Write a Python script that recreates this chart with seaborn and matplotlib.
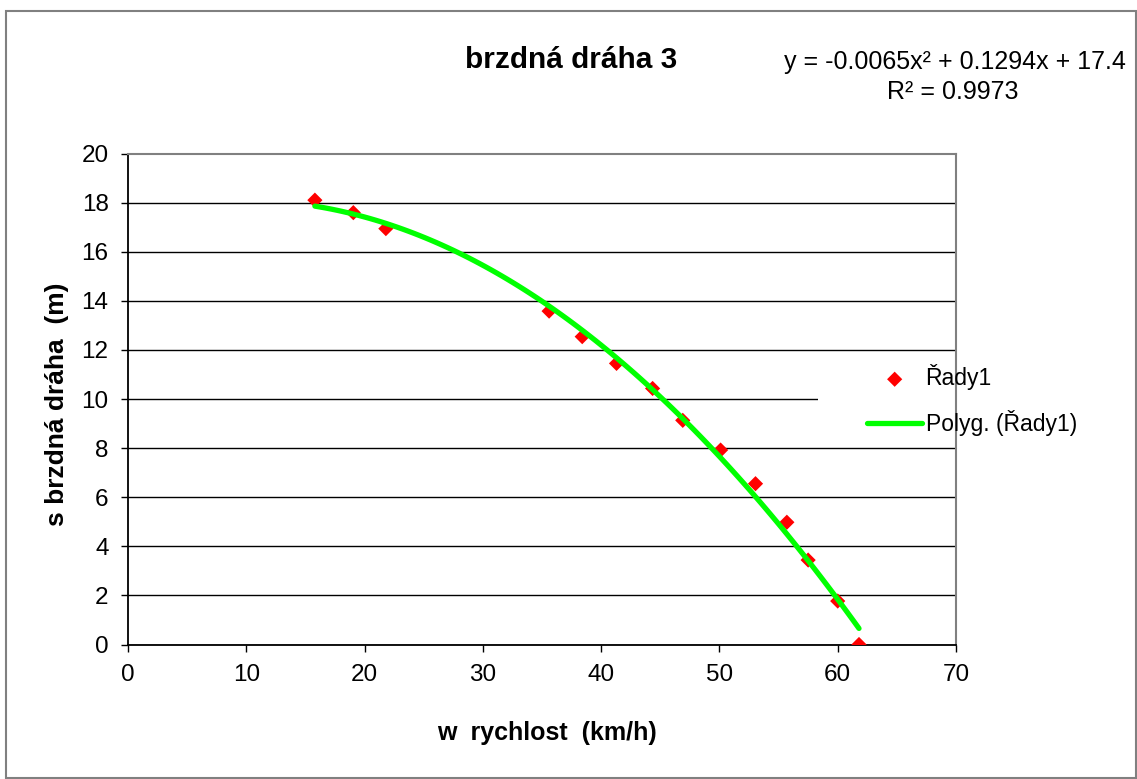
import numpy as np
import pandas as pd
import seaborn as sns
import matplotlib
matplotlib.use("Agg")
import matplotlib.pyplot as plt
from matplotlib.patches import Rectangle

# ---- data ----
rychlost = [15.8, 19.05, 21.8, 35.6, 38.4, 41.3, 44.35, 46.9, 50.1, 53.05, 55.7, 57.5, 60.0, 61.8]
draha = [18.1, 17.59, 16.94, 13.58, 12.54, 11.45, 10.43, 9.13, 7.92, 6.55, 4.98, 3.44, 1.77, 0.0]
x_ticks = [0, 10, 20, 30, 40, 50, 60, 70]
y_ticks = [0, 2, 4, 6, 8, 10, 12, 14, 16, 18, 20]
title = "brzdná dráha 3"
equation = "y = -0.0065x² + 0.1294x + 17.4"
r2_text = "R² = 0.9973"
series_label = "Řady1"
trend_label = "Polyg. (Řady1)"
x_label = "w  rychlost  (km/h)"
y_label = "s brzdná dráha  (m)"

df = pd.DataFrame({"x": rychlost, "y": draha})

sns.set_theme(style="white")
plt.rcParams["font.family"] = ["Liberation Sans", "DejaVu Sans"]
plt.rcParams["text.color"] = "black"
plt.rcParams["axes.labelcolor"] = "black"
plt.rcParams["xtick.color"] = "black"
plt.rcParams["ytick.color"] = "black"
plt.rcParams["legend.labelcolor"] = "black"

W, H = 1137, 779
fig = plt.figure(figsize=(W / 100, H / 100), dpi=100)
L, R, T, B = 128, 956, 153.5, 644.5
ax = fig.add_axes([L / W, 1 - B / H, (R - L) / W, (B - T) / H])

sns.scatterplot(data=df, x="x", y="y", ax=ax, marker="D", s=60, color="#ff0000",
                edgecolor="none", label=series_label, zorder=3)
sns.regplot(data=df, x="x", y="y", ax=ax, order=2, ci=None, scatter=False,
            color="#00ff00", line_kws={"lw": 3.8, "zorder": 4}, label=trend_label)

ax.set_xlim(0, 70)
ax.set_ylim(0, 20)
ax.set_xticks(x_ticks)
ax.set_yticks(y_ticks)
ax.tick_params(axis="both", direction="out", length=5, width=1, color="black",
               labelcolor="black", labelsize=17.5, pad=9, bottom=True, left=True)
ax.grid(axis="y", color="black", lw=1.0)
ax.grid(axis="x", visible=False)
ax.set_axisbelow(True)
ax.yaxis.get_gridlines()[-1].set_visible(False)

for s in ["left", "bottom"]:
    ax.spines[s].set_color("black")
    ax.spines[s].set_linewidth(1.3)
for s in ["top", "right"]:
    ax.spines[s].set_color("#808080")
    ax.spines[s].set_linewidth(1.5)

ax.set_xlabel(x_label, fontsize=18, fontweight="bold", va="center", color="black")
ax.set_ylabel(y_label, fontsize=19, fontweight="bold", va="center", color="black")
ax.xaxis.set_label_coords((547 - L) / (R - L), (B - 733) / (B - T))
ax.yaxis.set_label_coords((57 - L) / (R - L), (B - 404) / (B - T))

# legend mask (legend box covering the gridline)
ax.add_patch(Rectangle((818 / W, 1 - 446 / H), (1100 - 818) / W, (446 - 356) / H,
                       transform=fig.transFigure, facecolor="white", edgecolor="none",
                       zorder=1, clip_on=False))

leg = ax.legend(loc="center left", bbox_to_anchor=(858 / W, 1 - 400 / H),
                bbox_transform=fig.transFigure, frameon=False, fontsize=16.5,
                handlelength=2.4, handletextpad=0.15, labelspacing=0.85, borderaxespad=0)

fig.text(571 / W, 1 - 60 / H, title, ha="center", va="center", fontsize=21.4, fontweight="bold")
fig.text(955 / W, 1 - 62 / H, equation, ha="center", va="center", fontsize=18)
fig.text(953 / W, 1 - 92 / H, r2_text, ha="center", va="center", fontsize=18)

fig.add_artist(Rectangle((6 / W, 1 / H), (1136 - 6) / W, (778 - 11) / H,
                         transform=fig.transFigure, facecolor="none", edgecolor="#808080", lw=1.5))

fig.savefig("out.png", dpi=100, facecolor="white")
